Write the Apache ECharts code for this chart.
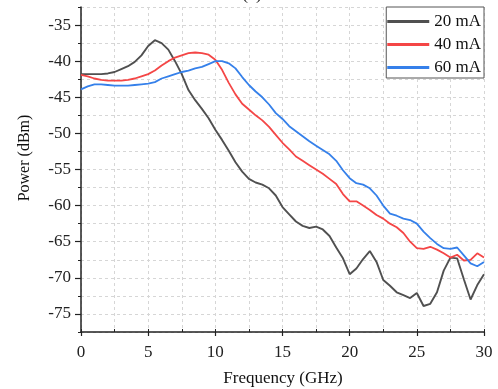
<!DOCTYPE html>
<html>
<head>
<meta charset="utf-8">
<script src="https://cdn.jsdelivr.net/npm/echarts@6/dist/echarts.min.js"></script>
<style>
html,body{margin:0;padding:0;background:#fff;}
#chart{width:498px;height:389px;}
</style>
</head>
<body>
<div id="chart"></div>
<script>
var freq = [0,0.5,1,1.5,2,2.5,3,3.5,4,4.5,5,5.5,6,6.5,7,7.5,8,8.5,9,9.5,10,10.5,11,11.5,12,12.5,13,13.5,14,14.5,15,15.5,16,16.5,17,17.5,18,18.5,19,19.5,20,20.5,21,21.5,22,22.5,23,23.5,24,24.5,25,25.5,26,26.5,27,27.5,28,28.5,29,29.5,30];
var p20 = [-41.8,-41.8,-41.8,-41.8,-41.7,-41.5,-41.1,-40.7,-40.1,-39.2,-37.9,-37.1,-37.5,-38.4,-40.0,-41.8,-44.0,-45.4,-46.6,-47.9,-49.5,-50.9,-52.4,-54.0,-55.3,-56.3,-56.8,-57.1,-57.6,-58.6,-60.2,-61.2,-62.2,-62.8,-63.1,-62.9,-63.3,-64.2,-65.8,-67.3,-69.5,-68.7,-67.4,-66.3,-67.8,-70.3,-71.1,-72.0,-72.4,-72.8,-72.1,-73.9,-73.6,-72.0,-69.0,-67.2,-67.3,-70.2,-73.0,-71.0,-69.5];
var p40 = [-41.9,-42.1,-42.4,-42.6,-42.7,-42.7,-42.7,-42.6,-42.4,-42.1,-41.8,-41.3,-40.6,-40.0,-39.5,-39.2,-38.9,-38.8,-38.9,-39.1,-39.8,-41.2,-43.0,-44.6,-45.9,-46.7,-47.5,-48.2,-49.1,-50.2,-51.3,-52.2,-53.2,-53.8,-54.4,-55.0,-55.6,-56.3,-57.0,-58.4,-59.4,-59.4,-60.0,-60.6,-61.3,-61.8,-62.5,-63.0,-63.8,-65.0,-65.9,-66.0,-65.7,-66.1,-66.6,-67.2,-66.8,-67.6,-67.5,-66.6,-67.2];
var p60 = [-43.9,-43.5,-43.2,-43.2,-43.3,-43.4,-43.4,-43.4,-43.3,-43.2,-43.1,-42.9,-42.4,-42.1,-41.8,-41.5,-41.3,-41.0,-40.8,-40.4,-40.0,-40.0,-40.3,-41.0,-42.2,-43.3,-44.2,-45.0,-46.0,-47.2,-48.0,-49.0,-49.7,-50.4,-51.1,-51.7,-52.3,-52.9,-53.8,-55.1,-56.2,-56.9,-57.1,-57.6,-58.6,-60.0,-61.1,-61.4,-61.8,-62.0,-62.5,-63.6,-64.5,-65.3,-65.9,-66.0,-65.8,-66.9,-68.0,-68.4,-67.8];
var seriesNames = ['20 mA','40 mA','60 mA'];
var xTicks = [0,5,10,15,20,25,30];
var yTicks = [-75,-70,-65,-60,-55,-50,-45,-40,-35];

function pairs(ys){ return freq.map(function(f,i){ return [f, ys[i]]; }); }

var FONT = '"Liberation Serif", "Times New Roman", serif';
var chart = echarts.init(document.getElementById('chart'));
var colors = ['#505050','#f44646','#3580ea'];
chart.setOption({
  animation:false,
  backgroundColor:'#fff',
  grid:{left:81,right:14,top:7,bottom:57,containLabel:false,outerBoundsMode:'none'},
  legend:{
    data:seriesNames, orient:'vertical', right:14, top:7,
    padding:[6,3,2,1], itemGap:6, itemWidth:42, itemHeight:3, icon:'rect',
    backgroundColor:'#fff', borderColor:'#555', borderWidth:1, borderRadius:0,
    textStyle:{fontFamily:FONT, fontSize:17, color:'#111', padding:[0,0,0,0]}
  },
  xAxis:[{
    type:'value', min:0, max:30, interval:2.5,
    axisLine:{show:true, onZero:false, lineStyle:{color:'#222', width:1.5}},
    axisTick:{show:true, inside:true, length:3, lineStyle:{color:'#222'}},
    axisLabel:{fontFamily:FONT, fontSize:17, color:'#222', margin:12,
      formatter:function(v){ return xTicks.indexOf(v)>=0 ? String(v) : ''; }},
    splitLine:{show:true, lineStyle:{color:'#d6d6d6', type:[3,3], width:1}}
  },{
    type:'value', min:0, max:30, interval:5, position:'bottom',
    axisLine:{show:false}, axisLabel:{show:false}, splitLine:{show:false},
    axisTick:{show:true, length:4, lineStyle:{color:'#222', width:1.2}}
  }],
  yAxis:[{
    type:'value', min:-77.5, max:-32.5, interval:2.5,
    axisLine:{show:true, onZero:false, lineStyle:{color:'#222', width:1.5}},
    axisTick:{show:true, length:3, lineStyle:{color:'#222'}},
    axisLabel:{fontFamily:FONT, fontSize:17, color:'#222', margin:10,
      formatter:function(v){ return yTicks.indexOf(v)>=0 ? String(v) : ''; }},
    splitLine:{show:true, lineStyle:{color:'#d6d6d6', type:[3,3], width:1}}
  },{
    type:'value', min:-77.5, max:-32.5, interval:2.5, position:'left',
    axisLine:{show:false}, axisLabel:{show:false}, splitLine:{show:false},
    axisTick:{show:true, length:6, customValues:yTicks, lineStyle:{color:'#222', width:1.2}}
  }],
  graphic:[
    {type:'text', x:25, y:158, rotation:Math.PI/2,
     style:{text:'Power (dBm)', font:'16px "Liberation Serif", serif', fill:'#111', textAlign:'center', textVerticalAlign:'middle'}},
    {type:'text', x:283, y:379,
     style:{text:'Frequency (GHz)', font:'17px "Liberation Serif", serif', fill:'#111', textAlign:'center', textVerticalAlign:'middle'}},
    {type:'text', x:252, y:3,
     style:{text:'(c)', font:'18px "Liberation Serif", serif', fill:'#111', textAlign:'center', textVerticalAlign:'bottom'}}
  ],
  series:[
    {name:seriesNames[0], type:'line', data:pairs(p20), showSymbol:false, color:colors[0], lineStyle:{width:1.9}},
    {name:seriesNames[1], type:'line', data:pairs(p40), showSymbol:false, color:colors[1], lineStyle:{width:1.8}},
    {name:seriesNames[2], type:'line', data:pairs(p60), showSymbol:false, color:colors[2], lineStyle:{width:1.8}}
  ]
});
</script>
</body>
</html>
